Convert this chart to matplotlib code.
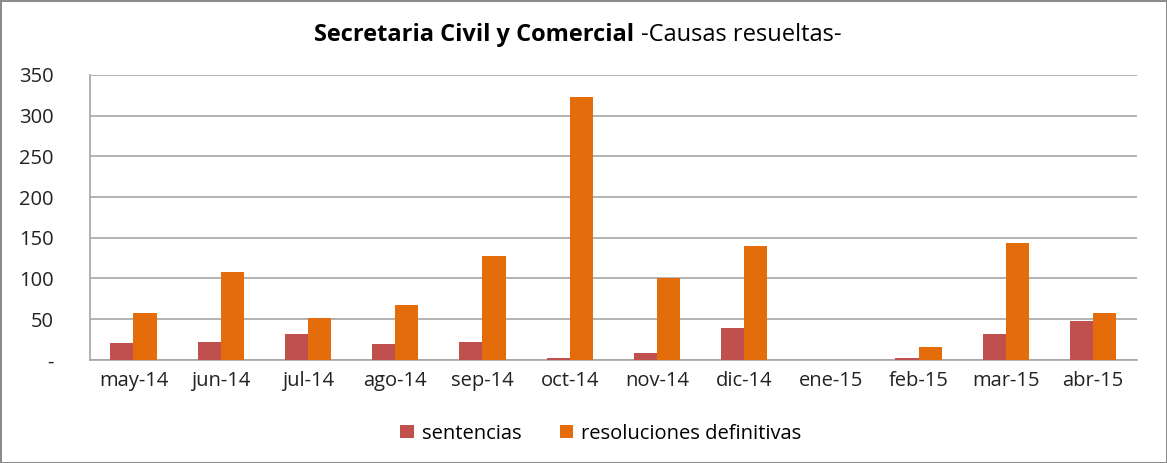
import numpy as np
import matplotlib.pyplot as plt
from matplotlib.ticker import FuncFormatter

plt.rcParams.update({
    "font.family": ["Open Sans", "DejaVu Sans"],
    "font.size": 14.5,
})

meses = ['may-14', 'jun-14', 'jul-14', 'ago-14', 'sep-14', 'oct-14',
         'nov-14', 'dic-14', 'ene-15', 'feb-15', 'mar-15', 'abr-15']
sentencias = [21, 22, 32, 20, 22, 3, 9, 39, 0, 3, 32, 48]
resoluciones = [58, 108, 52, 68, 128, 323, 100, 140, 0, 16, 144, 58]

fig = plt.figure(figsize=(11.67, 4.63), dpi=100)
fig.patch.set_edgecolor('#8c8c8c')
fig.patch.set_linewidth(2)
ax = fig.add_axes([0.077, 0.2225, 0.897, 0.616])

x = np.arange(len(meses))
w = 0.265
ax.bar(x - w/2, sentencias, w, color='#C0504D', label='sentencias', zorder=3)
ax.bar(x + w/2, resoluciones, w, color='#E46C0A', label='resoluciones definitivas', zorder=3)

ax.set_xlim(-0.5, len(meses) - 0.5)
ax.set_ylim(0, 350)
ax.set_yticks(np.arange(0, 351, 50))
ax.yaxis.set_major_formatter(FuncFormatter(lambda v, p: '-' if v == 0 else '%d' % v))
ax.set_xticks(x)
ax.set_xticklabels(meses)
ax.tick_params(length=0, pad=8, labelsize=14.5, colors='#222222')
ax.tick_params(axis='y', pad=26)
ax.grid(axis='y', color='#a6a6a6', linewidth=1.2, zorder=0)
for s in ['top', 'right']:
    ax.spines[s].set_visible(False)
for s in ['left', 'bottom']:
    ax.spines[s].set_color('#a6a6a6')
    ax.spines[s].set_linewidth(1.2)

fig.text(0.543, 0.925, 'Secretaria Civil y Comercial', ha='right', va='center',
         fontsize=17, fontweight='bold')
fig.text(0.549, 0.925, '-Causas resueltas-', ha='left', va='center', fontsize=17)

ax.legend(loc='upper center', bbox_to_anchor=(0.488, -0.16), ncol=2, frameon=False,
          handlelength=0.65, handleheight=0.65, columnspacing=1.9, handletextpad=0.4,
          fontsize=14.5)

fig.savefig('out.png', dpi=100)
